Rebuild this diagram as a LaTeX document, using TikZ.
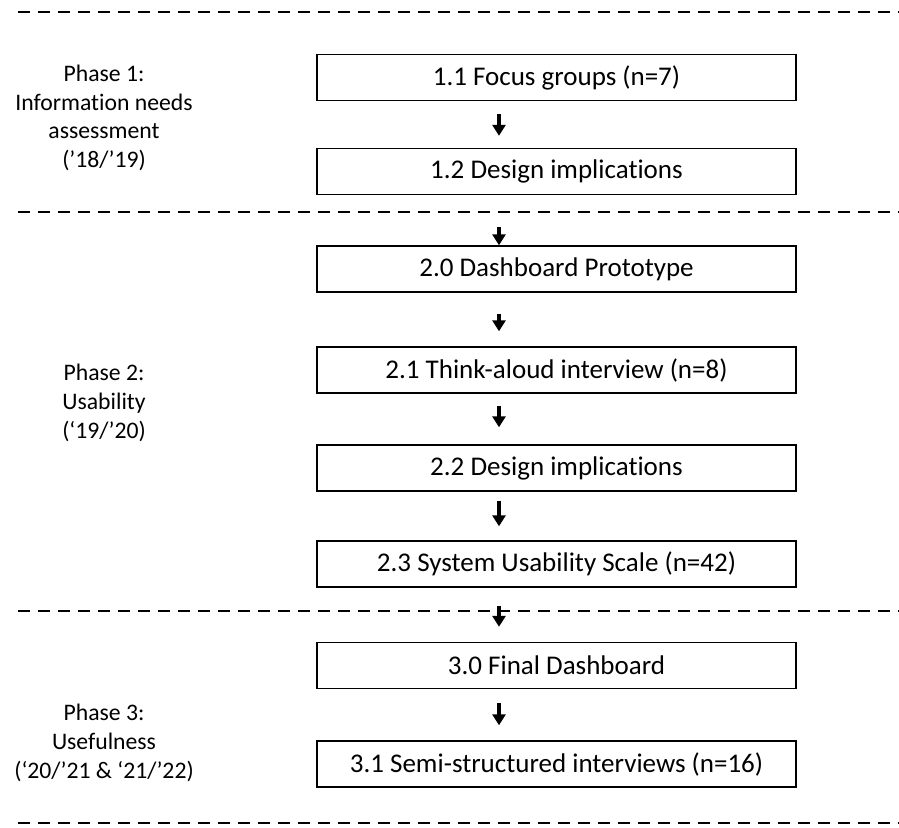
\documentclass[tikz,border=0pt]{standalone}
\usepackage{fontspec}
\setmainfont{Carlito}[Ligatures={NoCommon}]
\usetikzlibrary{arrows.meta}

\begin{document}
\begin{tikzpicture}[x=1pt,y=-1pt,
    stage/.style={draw,line width=1.4pt,minimum width=479pt,minimum height=46pt,
                  inner sep=0pt,font=\fontsize{27}{32}\selectfont},
    phase/.style={align=center,font=\fontsize{23.7}{28.6}\selectfont},
    flow/.style={line width=3.2pt,-{Triangle[width=13pt,length=11pt]}},
    sep/.style={line width=1.8pt,dash pattern=on 12pt off 8pt}]
  \useasboundingbox (0,0) rectangle (899,827) ;
  % phase separators
  \foreach \y in {12,212,611,823}
    \draw[sep] (18,\y) -- (899,\y) ;
  % phase labels
  \node[phase] (p1) at (104,118) {Phase 1:\\Information needs\\assessment\\(’18/’19)} ;
  \node[phase] (p2) at (104,403) {Phase 2:\\Usability\\(‘19/’20)} ;
  \node[phase] (p3) at (104,743) {Phase 3:\\Usefulness\\(‘20/’21 \& ‘21/’22)} ;
  % steps
  \node[stage] (b11) at (556.5,77.5) {1.1 Focus groups (n=7)} ;
  \node[stage] (b12) at (556.5,171.5) {1.2 Design implications} ;
  \node[stage] (b20) at (556.5,269) {2.0 Dashboard Prototype} ;
  \node[stage] (b21) at (556.5,370) {2.1 Think-aloud interview (n=8)} ;
  \node[stage] (b22) at (556.5,468) {2.2 Design implications} ;
  \node[stage] (b23) at (556.5,564) {2.3 System Usability Scale (n=42)} ;
  \node[stage] (b30) at (556.5,665.5) {3.0 Final Dashboard} ;
  \node[stage] (b31) at (556.5,764) {3.1 Semi-structured interviews (n=16)} ;
  % arrows, all on one vertical left of the box centres
  \coordinate (ax) at (499,0) ;
  \draw[flow,shorten <=13pt,shorten >=12pt] (b11.south -| ax) -- (b12.north -| ax) ;
  \draw[flow,shorten <=32pt] (b12.south -| ax) -- (b20.north -| ax) ;
  \draw[flow,shorten <=21pt,shorten >=15pt] (b20.south -| ax) -- (b21.north -| ax) ;
  \draw[flow,shorten <=12pt,shorten >=17pt] (b21.south -| ax) -- (b22.north -| ax) ;
  \draw[flow,shorten <=9pt,shorten >=14pt] (b22.south -| ax) -- (b23.north -| ax) ;
  \draw[flow,shorten <=18pt,shorten >=15pt] (b23.south -| ax) -- (b30.north -| ax) ;
  \draw[flow,shorten <=14pt,shorten >=15pt] (b30.south -| ax) -- (b31.north -| ax) ;
\end{tikzpicture}
\end{document}
